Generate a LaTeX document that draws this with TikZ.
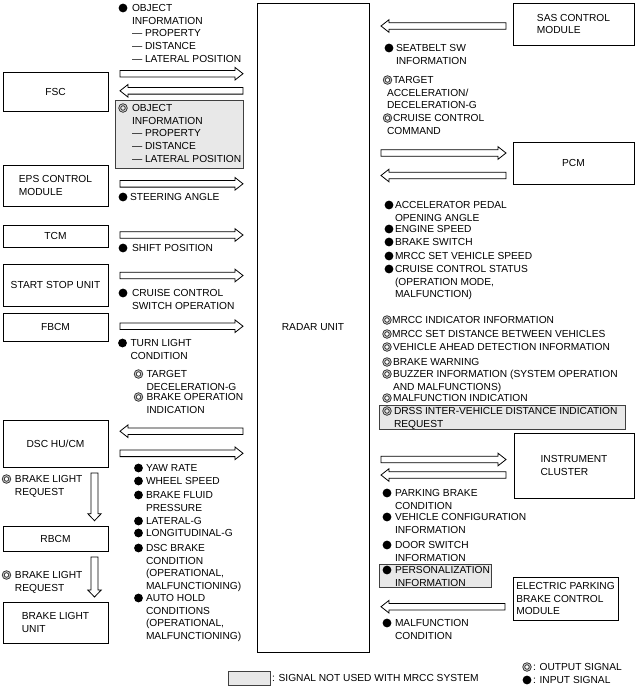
\documentclass[tikz,border=0pt]{standalone}
\usepackage{fontspec}
\setmainfont{Liberation Sans}
\usetikzlibrary{calc}
\tikzset{
 lbl/.style={anchor=north west, inner sep=0pt, outer sep=0pt, align=left, font=\fontsize{10.2}{12.6}\selectfont},
 unitbox/.style={draw, line width=0.9pt, rectangle, inner sep=0pt, align=left, font=\fontsize{10.2}{12.7}\selectfont},
 inbul/.style={circle, fill=black, inner sep=0pt, minimum size=8.8pt},
 outbul/.style={circle, draw=black!85, line width=0.8pt, double=gray!50, double distance=1pt, inner sep=0pt, minimum size=6.6pt},
 graybox/.style={draw=black!75, fill=gray!18, line width=0.6pt, inner sep=0pt},
 barrow/.style={draw, line width=0.8pt, fill=white},
}
\newcommand{\sigitem}[6]{\node[#2bul] (#1b) at (#3,#5) {}; \node[lbl] (#1) at (#4,#5-5.35) {\rule{0pt}{9pt}#6};}
\newcommand{\arrR}[2]{\draw[barrow] let \p1=(#1), \p2=(#2) in (\x1,\y1+3.3pt) -- (\x2-8pt,\y1+3.3pt) -- (\x2-8pt,\y1+6.3pt) -- (\x2,\y1) -- (\x2-8pt,\y1-6.3pt) -- (\x2-8pt,\y1-3.3pt) -- (\x1,\y1-3.3pt) -- cycle;}
\newcommand{\arrL}[2]{\draw[barrow] let \p1=(#1), \p2=(#2) in (\x1,\y1+3.3pt) -- (\x2+8pt,\y1+3.3pt) -- (\x2+8pt,\y1+6.3pt) -- (\x2,\y1) -- (\x2+8pt,\y1-6.3pt) -- (\x2+8pt,\y1-3.3pt) -- (\x1,\y1-3.3pt) -- cycle;}
\newcommand{\arrD}[2]{\draw[barrow] let \p1=(#1), \p2=(#2) in (\x1-3.5pt,\y1) -- (\x1-3.5pt,\y2+7pt) -- (\x1-6.7pt,\y2+7pt) -- (\x1,\y2) -- (\x1+6.7pt,\y2+7pt) -- (\x1+3.5pt,\y2+7pt) -- (\x1+3.5pt,\y1) -- cycle;}
\begin{document}
\begin{tikzpicture}[x=1pt,y=-1pt]
\useasboundingbox (0,0) rectangle (636,686);
% ---------- units ----------
\node[unitbox, minimum width=112, minimum height=649] (radar) at (313,327.5) {RADAR UNIT};
\node[unitbox, minimum width=105, minimum height=39] (fsc) at (55.5,91.5) {FSC};
\node[unitbox, minimum width=105, minimum height=41] (eps) at (55.5,185.5) {EPS CONTROL\\MODULE};
\node[unitbox, minimum width=105, minimum height=22] (tcm) at (55.5,236) {TCM};
\node[unitbox, minimum width=105, minimum height=42] (ssu) at (55.5,285) {START STOP UNIT};
\node[unitbox, minimum width=105, minimum height=28] (fbcm) at (55.5,327) {FBCM};
\node[unitbox, minimum width=105, minimum height=47] (dsc) at (55.5,443.5) {DSC HU/CM};
\node[unitbox, minimum width=105, minimum height=25] (rbcm) at (55.5,538.5) {RBCM};
\node[unitbox, minimum width=105, minimum height=41] (blu) at (55.5,622.5) {BRAKE LIGHT\\UNIT};
\node[unitbox, minimum width=121, minimum height=42] (sas) at (573.5,24) {SAS CONTROL\\MODULE};
\node[unitbox, minimum width=121, minimum height=42] (pcm) at (573.5,163) {PCM};
\node[unitbox, minimum width=120, minimum height=65] (ic) at (574,465.5) {INSTRUMENT\\CLUSTER};
\node[unitbox, minimum width=105, minimum height=43] (epb) at (565.5,598.5) {ELECTRIC PARKING\\BRAKE CONTROL\\MODULE};
% ---------- gray boxes ----------
\node[graybox, minimum width=128, minimum height=68] (gb1) at (179,134) {};
\node[graybox, minimum width=246, minimum height=24] (gb2) at (502,417) {};
\node[graybox, minimum width=112, minimum height=23] (gb3) at (435,575.5) {};
% ---------- arrows left ----------
\coordinate (a1t) at (120,73.7); \coordinate (a1h) at (243,73.7); \arrR{a1t}{a1h}
\coordinate (a2t) at (243,90.8); \coordinate (a2h) at (120,90.8); \arrL{a2t}{a2h}
\coordinate (a3t) at (120,183.8); \coordinate (a3h) at (243,183.8); \arrR{a3t}{a3h}
\coordinate (a4t) at (120,235); \coordinate (a4h) at (243,235); \arrR{a4t}{a4h}
\coordinate (a5t) at (120,275.5); \coordinate (a5h) at (243,275.5); \arrR{a5t}{a5h}
\coordinate (a6t) at (120,326.2); \coordinate (a6h) at (243,326.2); \arrR{a6t}{a6h}
\coordinate (a7t) at (243,431.2); \coordinate (a7h) at (120,431.2); \arrL{a7t}{a7h}
\coordinate (a8t) at (120,453.3); \coordinate (a8h) at (243,453.3); \arrR{a8t}{a8h}
\coordinate (v1t) at (94.5,473); \coordinate (v1h) at (94.5,520.7); \arrD{v1t}{v1h}
\coordinate (v2t) at (94.5,557); \coordinate (v2h) at (94.5,597); \arrD{v2t}{v2h}
% ---------- arrows right ----------
\coordinate (b1t) at (506,26); \coordinate (b1h) at (381,26); \arrL{b1t}{b1h}
\coordinate (b2t) at (381,153); \coordinate (b2h) at (506,153); \arrR{b2t}{b2h}
\coordinate (b3t) at (506,175.5); \coordinate (b3h) at (381,175.5); \arrL{b3t}{b3h}
\coordinate (b4t) at (381,459.5); \coordinate (b4h) at (506,459.5); \arrR{b4t}{b4h}
\coordinate (b5t) at (506,475); \coordinate (b5h) at (381,475); \arrL{b5t}{b5h}
\coordinate (b6t) at (505,606.7); \coordinate (b6h) at (381,606.7); \arrL{b6t}{b6h}
% ---------- left signals ----------
\sigitem{objin}{in}{123}{132}{8}{OBJECT\\INFORMATION\\--- PROPERTY\\--- DISTANCE\\--- LATERAL POSITION}
\sigitem{objout}{out}{123}{132}{108}{OBJECT\\INFORMATION\\--- PROPERTY\\--- DISTANCE\\--- LATERAL POSITION}
\sigitem{steer}{in}{123}{130}{197}{STEERING ANGLE}
\sigitem{shift}{in}{123}{132}{248}{SHIFT POSITION}
\sigitem{cruisesw}{in}{123}{132}{293}{CRUISE CONTROL\\SWITCH OPERATION}
\sigitem{turn}{in}{122.5}{130.5}{343}{TURN LIGHT\\CONDITION}
\sigitem{tdec}{out}{138.5}{146.5}{374}{TARGET\\DECELERATION-G}
\sigitem{bop}{out}{138.5}{146.5}{397}{BRAKE OPERATION\\INDICATION}
\sigitem{yaw}{in}{138.5}{146}{468}{YAW RATE}
\sigitem{wheel}{in}{138.5}{146}{481}{WHEEL SPEED}
\sigitem{bfp}{in}{138.5}{146}{495}{BRAKE FLUID\\PRESSURE}
\sigitem{latg}{in}{138.5}{146}{521}{LATERAL-G}
\sigitem{longg}{in}{138.5}{146}{533}{LONGITUDINAL-G}
\sigitem{dscb}{in}{138.5}{146}{548}{DSC BRAKE\\CONDITION\\(OPERATIONAL,\\MALFUNCTIONING)}
\sigitem{ahold}{in}{138.5}{146}{598}{AUTO HOLD\\CONDITIONS\\(OPERATIONAL,\\MALFUNCTIONING)}
\sigitem{blra}{out}{6.5}{15}{479}{BRAKE LIGHT\\REQUEST}
\sigitem{blrb}{out}{6.5}{15}{575}{BRAKE LIGHT\\REQUEST}
% ---------- right signals ----------
\sigitem{seat}{in}{389}{396}{48}{SEATBELT SW\\INFORMATION}
\sigitem{tacc}{out}{387.5}{387}{80}{\hspace*{6pt}TARGET\\ACCELERATION/\\DECELERATION-G}
\sigitem{ccc}{out}{387.5}{387}{118}{\hspace*{6pt}CRUISE CONTROL\\COMMAND}
\sigitem{accp}{in}{389}{395}{205}{ACCELERATOR PEDAL\\OPENING ANGLE}
\sigitem{engs}{in}{389}{395}{229}{ENGINE SPEED}
\sigitem{brsw}{in}{389}{395}{242}{BRAKE SWITCH}
\sigitem{mvs}{in}{389}{395}{256}{MRCC SET VEHICLE SPEED}
\sigitem{ccs}{in}{389}{395}{269}{CRUISE CONTROL STATUS\\(OPERATION MODE,\\MALFUNCTION)}
\sigitem{mii}{out}{387}{392}{320}{MRCC INDICATOR INFORMATION}
\sigitem{msd}{out}{387}{392}{334}{MRCC SET DISTANCE BETWEEN VEHICLES}
\sigitem{vad}{out}{387}{393}{347}{VEHICLE AHEAD DETECTION INFORMATION}
\sigitem{bw}{out}{387}{393}{362}{BRAKE WARNING}
\sigitem{buz}{out}{387}{393}{374}{BUZZER INFORMATION (SYSTEM OPERATION\\AND MALFUNCTIONS)}
\sigitem{mind}{out}{387}{393}{398}{MALFUNCTION INDICATION}
\sigitem{drss}{out}{387}{394}{411}{DRSS INTER-VEHICLE DISTANCE INDICATION\\REQUEST}
\sigitem{pbc}{in}{387}{395}{493}{PARKING BRAKE\\CONDITION}
\sigitem{vci}{in}{387}{395}{517}{VEHICLE CONFIGURATION\\INFORMATION}
\sigitem{dsi}{in}{387}{395}{545}{DOOR SWITCH\\INFORMATION}
\sigitem{pers}{in}{387}{395}{570}{PERSONALIZATION\\INFORMATION}
\sigitem{mfc}{in}{387}{395}{623}{MALFUNCTION\\CONDITION}
% ---------- legend ----------
\node[graybox, minimum width=42, minimum height=14] (leggray) at (249,678) {};
\node[lbl] (legtxt) at (272,672.65) {\rule{0pt}{9pt}: SIGNAL NOT USED WITH MRCC SYSTEM};
\sigitem{legout}{out}{527}{533}{667}{: OUTPUT SIGNAL}
\sigitem{legin}{in}{527}{533}{680}{: INPUT SIGNAL}
\end{tikzpicture}
\end{document}
